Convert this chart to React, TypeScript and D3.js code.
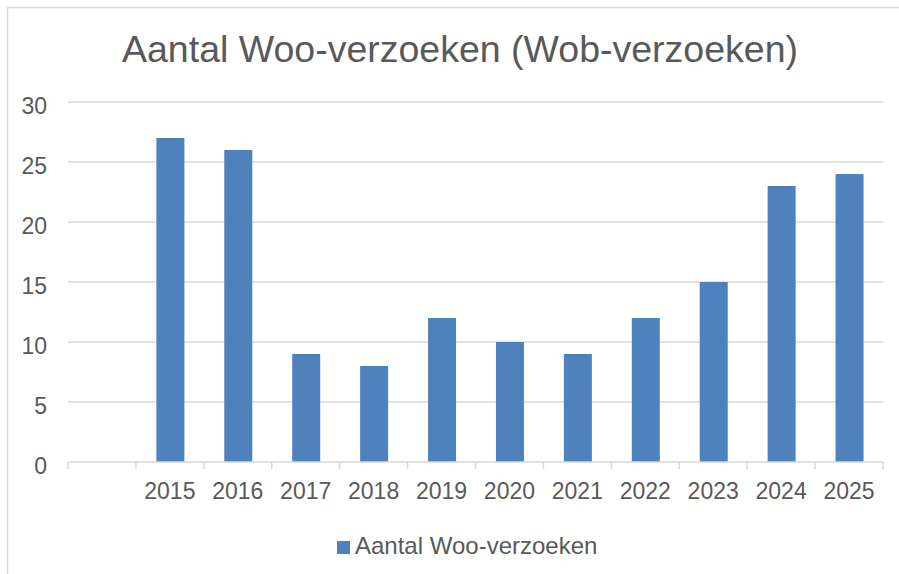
import React, { useEffect, useRef } from "react";
import * as d3 from "d3";

// chart data
const categories = ["", "2015", "2016", "2017", "2018", "2019", "2020", "2021", "2022", "2023", "2024", "2025"];
const values = [null, 27, 26, 9, 8, 12, 10, 9, 12, 15, 23, 24];
const yTicks = [0, 5, 10, 15, 20, 25, 30];
const title = "Aantal Woo-verzoeken (Wob-verzoeken)";
const seriesName = "Aantal Woo-verzoeken";

const W = 899;
const H = 574;
const FONT = "'Liberation Sans', Arial, sans-serif";
const TEXT = "#595959";
const BAR = "#4f81bd";
const GRID = "#d9d9d9";

const App = () => {
  const ref = useRef<SVGSVGElement>(null);

  useEffect(() => {
    const svg = d3.select(ref.current);
    svg.selectAll("*").remove();

    // outer chart border (right and bottom fall outside the picture)
    svg.append("rect")
      .attr("x", 7.5).attr("y", 7.5)
      .attr("width", 920).attr("height", 600)
      .attr("fill", "#fff").attr("stroke", GRID).attr("stroke-width", 1.5);

    const x0 = 68, x1 = 883;
    const x = d3.scaleBand<string>()
      .domain(categories.map((c, i) => c || `_${i}`))
      .range([x0, x1])
      .paddingInner(0)
      .paddingOuter(0);

    const y = d3.scaleLinear().domain([0, 30]).range([462, 102]);

    // gridlines
    svg.append("g").selectAll("line")
      .data(yTicks.filter(t => t > 0))
      .enter().append("line")
      .attr("x1", x0).attr("x2", x1)
      .attr("y1", d => y(d)).attr("y2", d => y(d))
      .attr("stroke", GRID).attr("stroke-width", 1.5);

    // y labels
    svg.append("g").selectAll("text")
      .data(yTicks)
      .enter().append("text")
      .attr("x", 47)
      .attr("y", d => y(d) + 12)
      .attr("text-anchor", "end")
      .style("font-family", FONT).style("font-size", "23px")
      .attr("fill", TEXT)
      .text(d => d);

    // bars
    const barW = 28;
    svg.append("g").selectAll("rect")
      .data(values.map((v, i) => ({ key: categories[i] || `_${i}`, v })).filter(d => d.v != null))
      .enter().append("rect")
      .attr("x", d => (x(d.key) as number) + x.bandwidth() / 2 - barW / 2 + 0.5)
      .attr("y", d => y(d.v as number))
      .attr("width", barW)
      .attr("height", d => y(0) - y(d.v as number))
      .attr("fill", BAR);

    // x axis line and ticks
    svg.append("line")
      .attr("x1", x0).attr("x2", x1)
      .attr("y1", y(0)).attr("y2", y(0))
      .attr("stroke", GRID).attr("stroke-width", 1.5);

    const tickPos = [...x.domain().map(k => x(k) as number), x1];
    svg.append("g").selectAll("line")
      .data(tickPos)
      .enter().append("line")
      .attr("x1", d => d).attr("x2", d => d)
      .attr("y1", y(0)).attr("y2", y(0) + 7)
      .attr("stroke", GRID).attr("stroke-width", 1.5);

    // x labels
    svg.append("g").selectAll("text")
      .data(categories.map((c, i) => ({ key: c || `_${i}`, c })).filter(d => d.c))
      .enter().append("text")
      .attr("x", d => (x(d.key) as number) + x.bandwidth() / 2)
      .attr("y", 499)
      .attr("text-anchor", "middle")
      .style("font-family", FONT).style("font-size", "23px")
      .attr("fill", TEXT)
      .text(d => d.c);

    // title
    svg.append("text")
      .attr("x", 460).attr("y", 62)
      .attr("text-anchor", "middle")
      .style("font-family", FONT).style("font-size", "37.5px")
      .attr("fill", TEXT)
      .text(title);

    // legend
    svg.append("rect")
      .attr("x", 337).attr("y", 541)
      .attr("width", 13).attr("height", 13)
      .attr("fill", BAR);
    svg.append("text")
      .attr("x", 355).attr("y", 554)
      .style("font-family", FONT).style("font-size", "24px")
      .attr("fill", TEXT)
      .text(seriesName);
  }, []);

  return (
    <svg ref={ref} width={W} height={H}
      style={{ position: "absolute", left: 0, top: 0, background: "#fff" }} />
  );
};

export default App;
